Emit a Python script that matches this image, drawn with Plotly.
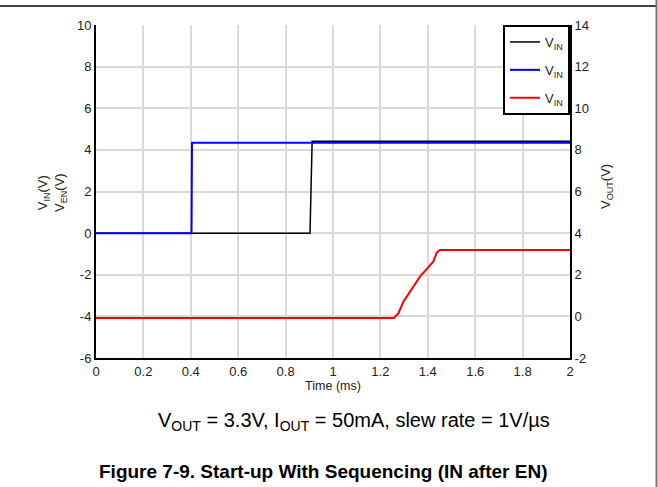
import plotly.graph_objects as go

# Data (time in ms)
vin_t = [0.0, 0.903, 0.912, 2.0]
vin_v = [0.0, 0.0, 4.42, 4.42]

ven_t = [0.0, 0.403, 0.405, 2.0]
ven_v = [0.0, 0.0, 4.34, 4.34]

vout_t = [0.0, 1.257, 1.276, 1.297, 1.367, 1.423, 1.438, 1.451, 2.0]
vout_v = [-0.08, -0.08, 0.15, 0.70, 1.91, 2.63, 3.06, 3.19, 3.19]

x_ticks = [0, 0.2, 0.4, 0.6, 0.8, 1, 1.2, 1.4, 1.6, 1.8, 2]
x_labels = ["0", "0.2", "0.4", "0.6", "0.8", "1", "1.2", "1.4", "1.6", "1.8", "2"]
y_ticks = [-6, -4, -2, 0, 2, 4, 6, 8, 10]
y_labels = ["-6", "-4", "-2", "0", "2", "4", "6", "8", "10"]
y2_ticks = [-2, 0, 2, 4, 6, 8, 10, 12, 14]
y2_labels = ["-2", "0", "2", "4", "6", "8", "10", "12", "14"]
legend_names = ["V<sub>IN</sub>", "V<sub>IN</sub>", "V<sub>IN</sub>"]

FONT = "Liberation Sans, Arial, sans-serif"
TICKFONT = dict(family=FONT, size=13, color="#222")

fig = go.Figure()
fig.add_trace(go.Scatter(x=vin_t, y=vin_v, mode="lines", name=legend_names[0],
                         legendgroup="a", line=dict(color="black", width=1.5)))
fig.add_trace(go.Scatter(x=ven_t, y=ven_v, mode="lines", name=legend_names[1],
                         legendgroup="b", line=dict(color="#0000ff", width=2)))
fig.add_trace(go.Scatter(x=vout_t, y=vout_v, mode="lines", name=legend_names[2],
                         legendgroup="c", line=dict(color="#ff0000", width=2), yaxis="y2"))

L, R, T, B = 96, 88, 25, 129
W, H = 658, 487
pw, ph = W - L - R, H - T - B

def px(x):
    return (x - L) / pw

def py(y):
    return (H - B - y) / ph

fig.update_layout(
    width=W, height=H,
    margin=dict(l=L, r=R, t=T, b=B),
    paper_bgcolor="white", plot_bgcolor="white",
    font=dict(family=FONT, size=12, color="#222"),
    showlegend=True,
    legend=dict(x=1, y=1, xanchor="right", yanchor="top",
                bordercolor="black", borderwidth=2, bgcolor="white",
                font=dict(size=13), tracegroupgap=8, itemwidth=30),
    xaxis=dict(range=[0, 2], tickvals=x_ticks, ticktext=x_labels, tickfont=TICKFONT,
               showgrid=True, gridcolor="#d9d9d9",
               gridwidth=1.5, showline=True, linecolor="black", linewidth=2,
               zeroline=False, ticks="", mirror=False,
               title=dict(text="Time (ms)", font=dict(size=12.5), standoff=2)),
    yaxis=dict(range=[-6, 10], tickvals=y_ticks, ticktext=y_labels, tickfont=TICKFONT,
               showgrid=True, gridcolor="#d9d9d9",
               gridwidth=1.5, showline=True, linecolor="black", linewidth=2,
               zeroline=False, ticks=""),
    yaxis2=dict(range=[-2, 14], tickvals=y2_ticks, ticktext=y2_labels, tickfont=TICKFONT,
                overlaying="y", side="right",
                showgrid=False, showline=True, linecolor="black", linewidth=2,
                zeroline=False, ticks=""),
)

# axis titles
fig.add_annotation(text="V<sub>IN</sub>(V)<br>V<sub>EN</sub>(V)", textangle=-90,
                   xref="paper", yref="paper", x=px(52), y=py(193),
                   xanchor="center", yanchor="middle",
                   showarrow=False, font=dict(size=13))
fig.add_annotation(text="V<sub>OUT</sub>(V)", textangle=-90,
                   xref="paper", yref="paper", x=px(606), y=py(187),
                   xanchor="center", yanchor="middle",
                   showarrow=False, font=dict(size=13))

# subtitle and caption
fig.add_annotation(text="V<sub>OUT</sub> = 3.3V, I<sub>OUT</sub> = 50mA, slew rate = 1V/µs",
                   xref="paper", yref="paper", x=px(354), y=py(421),
                   xanchor="center", yanchor="middle",
                   showarrow=False, font=dict(size=20, color="black"))
fig.add_annotation(text="<b>Figure 7-9. Start-up With Sequencing (IN after EN)</b>",
                   xref="paper", yref="paper", x=px(323), y=py(471),
                   xanchor="center", yanchor="middle",
                   showarrow=False, font=dict(size=19, color="black"))

# outer frame lines
fig.add_shape(type="line", xref="paper", yref="paper",
              x0=px(0), x1=px(657), y0=py(6), y1=py(6),
              line=dict(color="black", width=1.5))
fig.add_shape(type="line", xref="paper", yref="paper",
              x0=px(656.5), x1=px(656.5), y0=py(0), y1=py(487),
              line=dict(color="#777", width=2))

fig.write_html("out.html", config={"displayModeBar": False},
               post_script="document.body.style.margin='0';document.body.style.padding='0';")
